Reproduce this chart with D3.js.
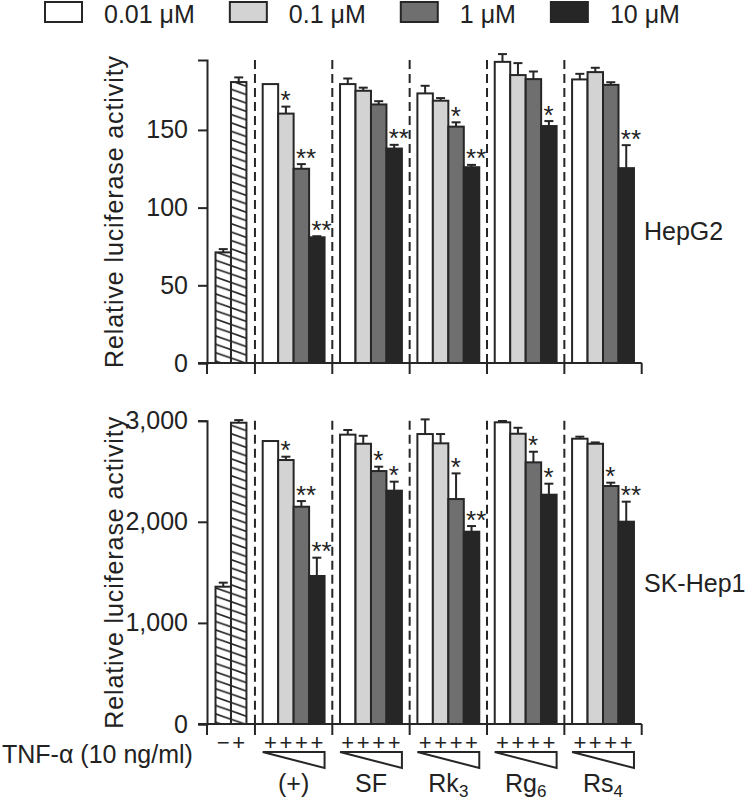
<!DOCTYPE html>
<html><head><meta charset="utf-8">
<script src="https://cdn.jsdelivr.net/npm/d3@7"></script>
<style>
body{margin:0;background:#fff}
svg{display:block}
text{font-family:"Liberation Sans",Arial,Helvetica,sans-serif;fill:#222}
</style>
</head><body><svg id="chart" width="748" height="801"></svg>
<script>
// ---------------- data ----------------
const concentrations = ["0.01 \u03bcM", "0.1 \u03bcM", "1 \u03bcM", "10 \u03bcM"];
const groupNames = ["(+)", "SF", "Rk", "Rg", "Rs"];
const groupSubs = ["", "", "3", "6", "4"];
const controlSigns = ["\u2212", "+"];
const tnfLabel = "TNF-\u03b1 (10 ng/ml)";
const yLabel = "Relative luciferase activity";
const panelNames = ["HepG2", "SK-Hep1"];

const hepg2Control = [71.2, 180.8];
const hepg2ControlErr = [2.1, 3.0];
const hepg2Values = [
  [179.5, 160.5, 125.0, 80.9],
  [179.5, 175.2, 166.4, 138.0],
  [173.5, 168.8, 152.1, 126.0],
  [193.8, 185.3, 182.7, 152.5],
  [182.5, 187.2, 179.0, 125.4]
];
const hepg2Err = [
  [0, 4.5, 3.0, 0.7],
  [3.6, 2.0, 2.1, 2.4],
  [4.9, 1.7, 2.8, 1.5],
  [5.0, 7.7, 4.9, 3.2],
  [3.6, 2.8, 1.7, 14.8]
];
const hepg2Stars = [
  ["", "*", "**", "**"],
  ["", "", "", "**"],
  ["", "", "*", "**"],
  ["", "", "", "*"],
  ["", "", "", "**"]
];
const hepg2Ticks = [0, 50, 100, 150];
const hepg2Max = 195;

const skControl = [1358, 2980];
const skControlErr = [40, 26];
const skValues = [
  [2799, 2611, 2149, 1464],
  [2862, 2772, 2502, 2308],
  [2868, 2776, 2225, 1902],
  [2984, 2871, 2588, 2268],
  [2822, 2772, 2354, 2001]
];
const skErr = [
  [0, 33, 56, 181],
  [46, 79, 43, 89],
  [145, 92, 254, 56],
  [13, 59, 105, 109],
  [20, 13, 33, 198]
];
const skStars = [
  ["", "*", "**", "**"],
  ["", "", "*", "*"],
  ["", "", "*", "**"],
  ["", "", "*", "*"],
  ["", "", "*", "**"]
];
const skTicks = [0, 1000, 2000, 3000];
const skMax = 3000;

// ---------------- styling ----------------
const barColors = ["#ffffff", "#d3d3d3", "#6f6f6f", "#262626"];
const ink = "#262626";
const FONT = 25;

const svg = d3.select("#chart");
const defs = svg.append("defs");
const pat = defs.append("pattern")
  .attr("id", "hatch").attr("patternUnits", "userSpaceOnUse")
  .attr("width", 24).attr("height", 8.4);
pat.append("rect").attr("width", 24).attr("height", 8.4).attr("fill", "#fff");
pat.append("path")
  .attr("d", "M-24,-8.4L48,16.8M-24,0L24,16.8M0,-8.4L48,8.4")
  .attr("stroke", ink).attr("stroke-width", 1.6);

// x layout in "bar units": control segment 3.1 units, then 5 groups of 5 units
const ctrlPad = 0.55, grpPad = 0.5, ctrlSeg = 3.1, grpSeg = 5;
const totalUnits = ctrlSeg + grpSeg * groupNames.length;
const x = d3.scaleLinear().domain([0, totalUnits]).range([207, 641.7]);
const ctrlStart = i => ctrlPad + i;
const segStart = g => ctrlSeg + grpSeg * g;
const barStart = (g, j) => segStart(g) + grpPad + j;

const panels = [
  { name: panelNames[0], ctrl: hepg2Control, ctrlErr: hepg2ControlErr, vals: hepg2Values, err: hepg2Err,
    stars: hepg2Stars, ticks: hepg2Ticks, max: hepg2Max, range: [363, 60], fmt: d3.format("d"), labelY: 240 },
  { name: panelNames[1], ctrl: skControl, ctrlErr: skControlErr, vals: skValues, err: skErr,
    stars: skStars, ticks: skTicks, max: skMax, range: [724, 420.7], fmt: d3.format(","), labelY: 592 }
];

panels.forEach(p => {
  const y = d3.scaleLinear().domain([0, p.max]).range(p.range);
  const g = svg.append("g");
  const y0 = y(0), yTop = y(p.max);

  // dashed separators
  for (let k = 0; k < groupNames.length; k++) {
    g.append("line").attr("x1", x(segStart(k))).attr("x2", x(segStart(k)))
      .attr("y1", yTop).attr("y2", y0)
      .attr("stroke", ink).attr("stroke-width", 2).attr("stroke-dasharray", "9,5");
  }

  function drawBar(xs, v, e, fill, star) {
    const bx = x(xs), bw = x(xs + 1) - x(xs), cx = bx + bw / 2;
    if (e > 0) {
      g.append("line").attr("x1", cx).attr("x2", cx).attr("y1", y(v)).attr("y2", y(v + e))
        .attr("stroke", ink).attr("stroke-width", 2);
      g.append("line").attr("x1", cx - 4.5).attr("x2", cx + 4.5).attr("y1", y(v + e)).attr("y2", y(v + e))
        .attr("stroke", ink).attr("stroke-width", 2);
    }
    g.append("rect").attr("x", bx).attr("y", y(v)).attr("width", bw).attr("height", y0 - y(v))
      .attr("fill", fill).attr("stroke", ink).attr("stroke-width", 2);
    if (star) {
      g.append("text").attr("x", bx + 2.3).attr("y", y(v + e) + 2.5)
        .attr("font-size", 26).text(star);
    }
  }

  p.ctrl.forEach((v, i) => drawBar(ctrlStart(i), v, p.ctrlErr[i], "url(#hatch)", ""));
  p.vals.forEach((row, gi) => row.forEach((v, j) =>
    drawBar(barStart(gi, j), v, p.err[gi][j], barColors[j], p.stars[gi][j])));

  // y axis
  const ax = g.append("g").attr("transform", `translate(${x(0)},0)`)
    .call(d3.axisLeft(y).tickValues(p.ticks).tickFormat(p.fmt).tickSize(9).tickSizeOuter(9).tickPadding(10));
  ax.attr("font-size", null).attr("font-family", null);
  ax.selectAll("path.domain").attr("stroke", ink).attr("stroke-width", 2);
  ax.selectAll(".tick line").attr("stroke", ink).attr("stroke-width", 2);
  ax.selectAll(".tick text").attr("font-size", FONT).attr("fill", ink);

  // x axis baseline + downward ticks
  g.append("line").attr("x1", x(0) - 9).attr("x2", x(totalUnits)).attr("y1", y0).attr("y2", y0)
    .attr("stroke", ink).attr("stroke-width", 2);
  const xt = [0].concat(d3.range(groupNames.length).map(segStart)).concat([totalUnits]);
  xt.forEach(t => g.append("line").attr("x1", x(t)).attr("x2", x(t)).attr("y1", y0).attr("y2", y0 + 11)
    .attr("stroke", ink).attr("stroke-width", 2));

  // y label
  g.append("text").attr("transform", `translate(123,${(y0 + yTop) / 2}) rotate(-90)`)
    .attr("text-anchor", "middle").attr("font-size", FONT).attr("letter-spacing", 0.9).text(yLabel);

  // panel name
  g.append("text").attr("x", 644).attr("y", p.labelY).attr("font-size", 25).text(p.name);
});

// legend
let lx = 45;
concentrations.forEach((c, i) => {
  svg.append("rect").attr("x", lx).attr("y", 2).attr("width", 37).attr("height", 20)
    .attr("fill", barColors[i]).attr("stroke", ink).attr("stroke-width", 2);
  const t = svg.append("text").attr("x", lx + 37 + 22).attr("y", 23).attr("font-size", FONT).text(c);
  lx = lx + 37 + 22 + t.node().getComputedTextLength() + 35;
});

// bottom x labels
svg.append("text").attr("x", 2).attr("y", 763).attr("font-size", FONT).text(tnfLabel);
controlSigns.forEach((s, i) => {
  svg.append("text").attr("x", x(ctrlStart(i) + 0.5)).attr("y", 750).attr("text-anchor", "middle")
    .attr("font-size", 22).text(s);
});
groupNames.forEach((name, gi) => {
  for (let j = 0; j < concentrations.length; j++) {
    svg.append("text").attr("x", x(barStart(gi, j) + 0.5)).attr("y", 750).attr("text-anchor", "middle")
      .attr("font-size", 22).text("+");
  }
  const l = x(barStart(gi, 0)), r = x(barStart(gi, 3) + 1);
  svg.append("path").attr("d", `M${l},752L${r},752L${r},768Z`)
    .attr("fill", "none").attr("stroke", ink).attr("stroke-width", 2).attr("stroke-linejoin", "miter");
  const t = svg.append("text").attr("x", x(segStart(gi) + grpSeg / 2)).attr("y", 792)
    .attr("text-anchor", "middle").attr("font-size", FONT);
  t.append("tspan").text(name);
  if (groupSubs[gi]) t.append("tspan").attr("font-size", 17).attr("dy", 4.5).text(groupSubs[gi]);
});
</script>
</body></html>
